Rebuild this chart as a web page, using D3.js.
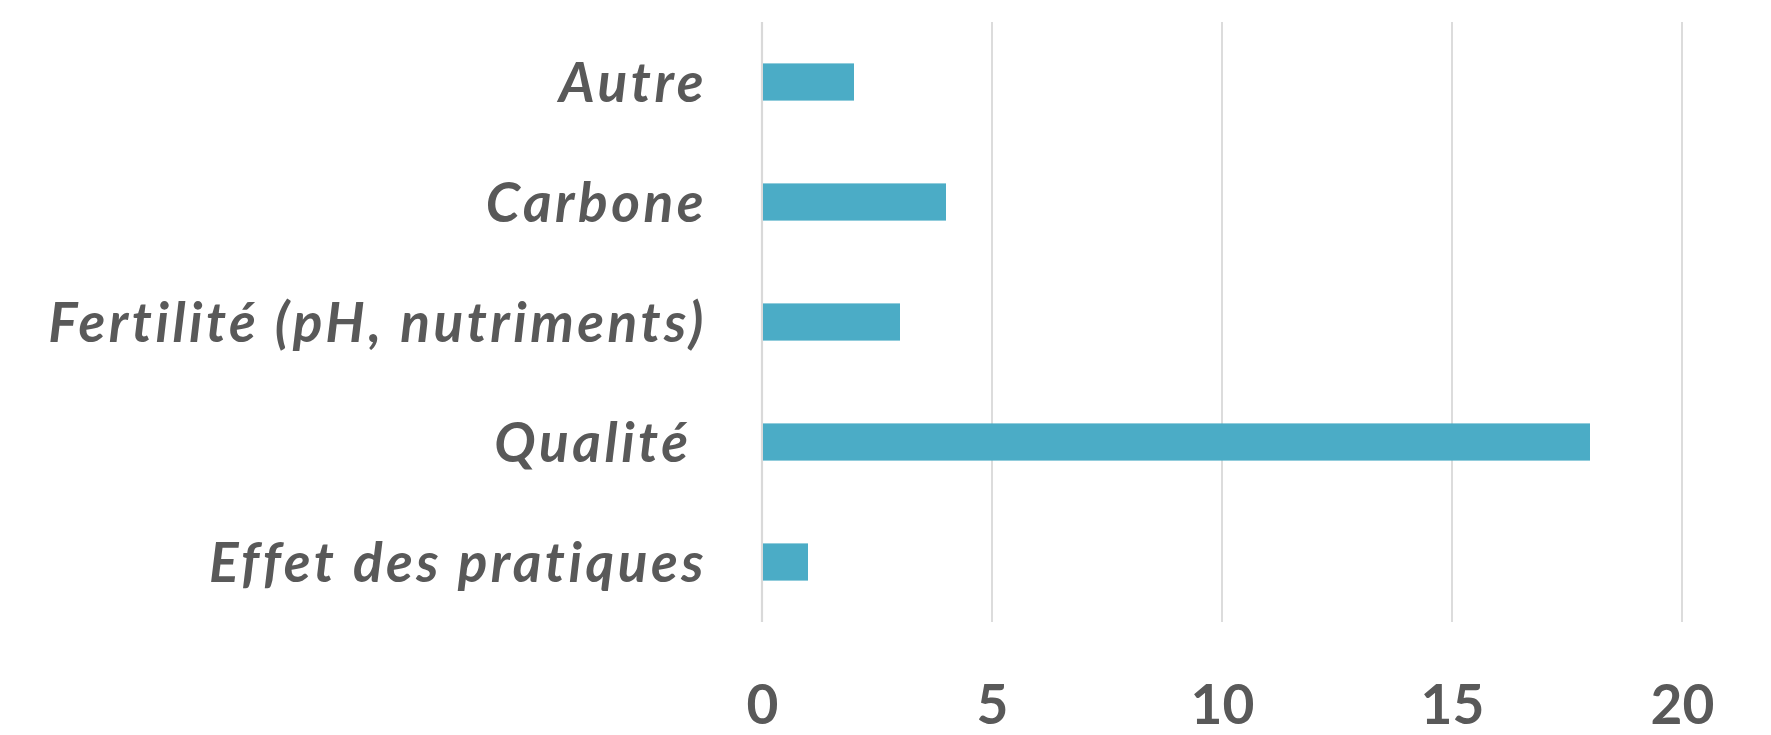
<!DOCTYPE html>
<html><head><meta charset="utf-8">
<script src="https://cdn.jsdelivr.net/npm/d3@7/dist/d3.min.js"></script>
<style>body{margin:0;background:#fff;} svg{display:block;}</style>
</head><body>
<svg id="chart" width="1771" height="735"></svg>
<script>
const categories = ["Autre", "Carbone", "Fertilité (pH, nutriments)", "Qualité ", "Effet des pratiques"];
const values = [2, 4, 3, 18, 1];
const tickValues = [0, 5, 10, 15, 20];

const svg = d3.select("#chart");
const margin = {left: 762, right: 89, top: 22, bottom: 113};
const W = 1771, H = 735;
const x = d3.scaleLinear().domain([0, 20]).range([margin.left, W - margin.right]);
const y = d3.scaleBand().domain(categories).range([margin.top, H - margin.bottom]).paddingInner(0.69).paddingOuter(0.345);

// gridlines
svg.append("g").selectAll("line").data(tickValues).join("line")
  .attr("x1", d => x(d)).attr("x2", d => x(d))
  .attr("y1", margin.top).attr("y2", H - margin.bottom)
  .attr("stroke", "#d9d9d9").attr("stroke-width", d => d === 0 ? 2.2 : 1.8);

// bars
svg.append("g").selectAll("rect").data(categories).join("rect")
  .attr("x", x(0) + 1)
  .attr("y", d => y(d))
  .attr("width", (d, i) => x(values[i]) - x(0) - 1)
  .attr("height", y.bandwidth())
  .attr("fill", "#4bacc6");

// x axis labels
const xAxis = d3.axisBottom(x).tickValues(tickValues).tickSize(0).tickPadding(0);
const gx = svg.append("g").attr("transform", `translate(0, ${H - margin.bottom})`).call(xAxis);
gx.select(".domain").remove();
gx.selectAll("text")
  .attr("dy", null).attr("y", 102)
  .attr("font-family", "Lato, 'Open Sans', sans-serif")
  .attr("font-weight", "bold").attr("font-size", 55)
  .attr("fill", "#595959");

// y axis labels
const yAxis = d3.axisLeft(y).tickSize(0).tickPadding(0);
const gy = svg.append("g").attr("transform", `translate(707, 0)`).call(yAxis);
gy.select(".domain").remove();
gy.selectAll("text")
  .attr("xml:space", "preserve")
  .style("white-space", "pre")
  .style("font-variant-ligatures", "none")
  .style("letter-spacing", "3.5px")
  .attr("dy", "0.36em")
  .attr("font-family", "Lato, 'Open Sans', sans-serif")
  .attr("font-weight", "bold").attr("font-style", "italic").attr("font-size", 55)
  .attr("fill", "#595959");
</script>
</body></html>
